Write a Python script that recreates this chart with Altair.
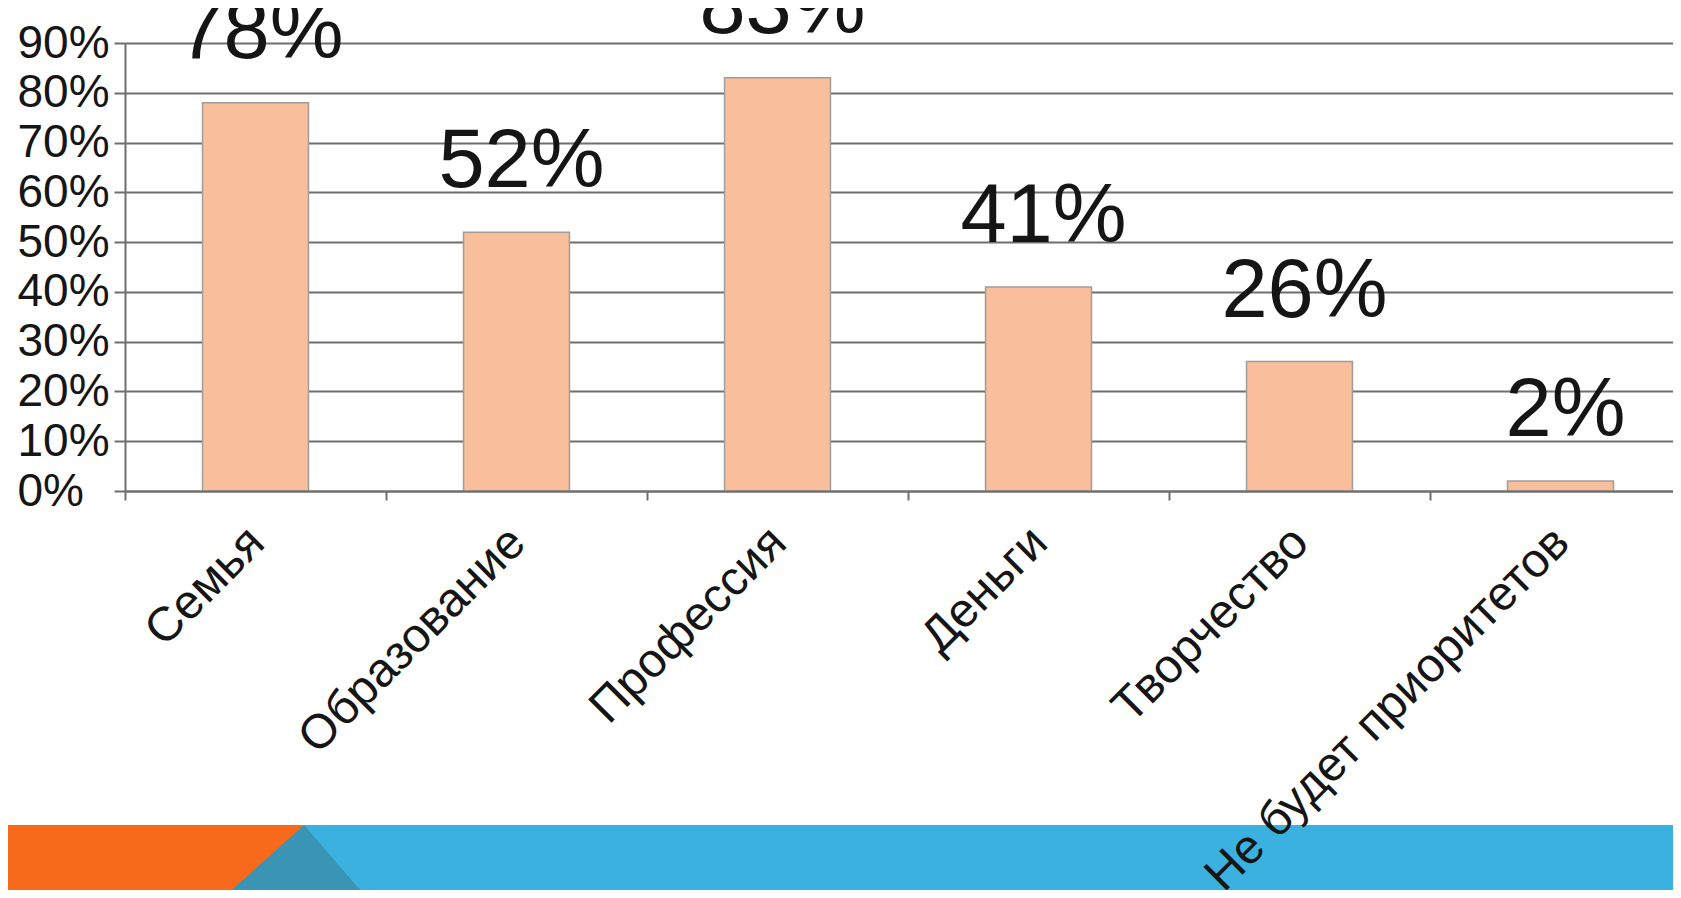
import altair as alt
import pandas as pd

# ---- data ----
categories = ["Семья", "Образование", "Профессия", "Деньги", "Творчество", "Не будет приоритетов"]
values_pct = [78, 52, 83, 41, 26, 2]
value_labels = ["78%", "52%", "83%", "41%", "26%", "2%"]
y_tick_pct = [0, 10, 20, 30, 40, 50, 60, 70, 80, 90]

df = pd.DataFrame({
    "cat": categories,
    "share": [v / 100 for v in values_pct],
    "label": value_labels,
})

FONT = "Liberation Sans"
GRID = "#6f6f6f"
TEXT = "#151515"

x_enc = alt.X(
    "cat:N",
    sort=categories,
    scale=alt.Scale(range=[0, 1566], paddingInner=0, paddingOuter=0),
    axis=alt.Axis(
        title=None,
        labelAngle=-45,
        labelAlign="right",
        labelBaseline="top",
        labelFont=FONT,
        labelFontSize=48,
        labelColor=TEXT,
        labelPadding=18,
        labelOffset=-16,
        labelLimit=2000,
        labelOverlap=False,
        labelBound=False,
        labelFlush=False,
        tickBand="extent",
        tickSize=9,
        tickColor=GRID,
        tickWidth=2,
        domainColor=GRID,
        domainWidth=2,
        grid=False,
        zindex=1,
    ),
)

y_enc = alt.Y(
    "share:Q",
    scale=alt.Scale(domain=[0, 0.9], nice=False, zero=True),
    axis=alt.Axis(
        title=None,
        values=[t / 100 for t in y_tick_pct],
        format=".0%",
        labelAlign="left",
        labelBaseline="middle",
        labelFont=FONT,
        labelFontSize=46,
        labelColor=TEXT,
        labelPadding=97,
        labelLimit=2000,
        labelOverlap=False,
        tickSize=11,
        tickColor=GRID,
        tickWidth=2,
        domainColor=GRID,
        domainWidth=2,
        grid=True,
        gridColor=GRID,
        gridWidth=2,
    ),
)

base = alt.Chart(df).encode(x=x_enc, y=y_enc)

bars = base.mark_bar(
    width=alt.RelativeBandSize(0.406),
    color="#f9be9c",
    stroke="#a39d99",
    strokeWidth=1.5,
)

labels = base.mark_text(
    dy=-45,
    dx=5,
    align="center",
    baseline="alphabetic",
    font=FONT,
    fontSize=83,
    color=TEXT,
).encode(text="label:N")

# ---- slide decoration band at the bottom ----
deco = alt.Data(values=[{"k": 0}])
orange = alt.Chart(deco).mark_rect(color="#f76a1c").encode(
    x=alt.value(-125), x2=alt.value(179), y=alt.value(782), y2=alt.value(870)
)
blue = alt.Chart(deco).mark_rect(color="#3ab1df").encode(
    x=alt.value(179), x2=alt.value(1560), y=alt.value(782), y2=alt.value(870)
)
tri = alt.Chart(deco).mark_point(
    shape="M0,-1L1.726,1L-2.219,1Z",
    filled=True,
    size=5329,
    color="#3a94b3",
    opacity=1,
    strokeWidth=0,
).encode(x=alt.value(179), y=alt.value(818.5))

chart = alt.layer(orange, blue, tri, bars, labels).properties(
    width=1548,
    height=448,
    padding={"left": 117, "top": 35, "right": 0, "bottom": 399},
    autosize=alt.AutoSizeParams(type="none"),
    background="white",
).configure_view(strokeWidth=0)

chart.save("out.html", embed_options={"renderer": "svg", "actions": False})
